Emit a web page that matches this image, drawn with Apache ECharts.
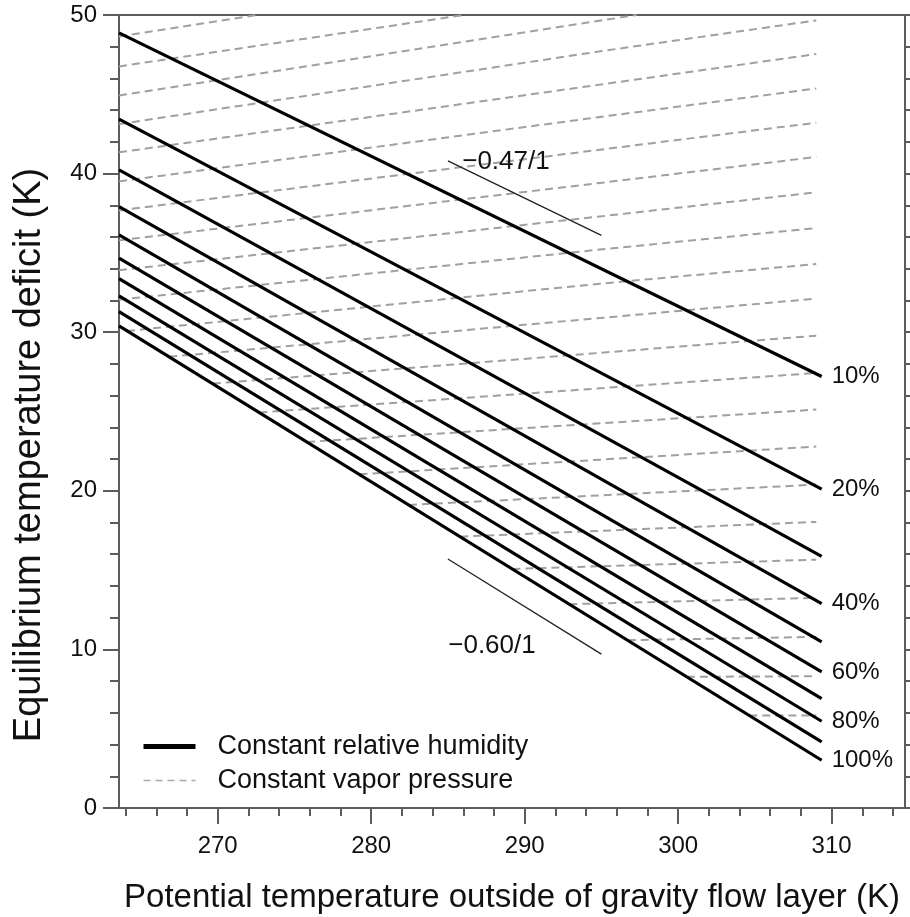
<!DOCTYPE html>
<html>
<head>
<meta charset="utf-8">
<script src="https://cdn.jsdelivr.net/npm/echarts@6/dist/echarts.min.js"></script>
<style>
html,body{margin:0;padding:0;background:#fff;}
#chart{width:910px;height:917px;}
</style>
</head>
<body>
<div id="chart"></div>
<script>
// ---------- data ----------
// x-axis range (potential temperature, K)
const xMin = 263.57;
const xMax = 314.78;
const xMajorTicks = [270, 280, 290, 300, 310];
const xMinorTicks = [264, 266, 268, 270, 272, 274, 276, 278, 280, 282, 284, 286, 288, 290, 292, 294, 296, 298, 300, 302, 304, 306, 308, 310, 312, 314];

// constant relative humidity lines (10% .. 100%)
const rhLabels = ['10%', '20%', '', '40%', '', '60%', '', '80%', '', '100%'];
const rhStartT = 263.57;
const rhEndT = 309.35;
const rhStartDeficit = [48.87, 43.43, 40.23, 37.92, 36.14, 34.67, 33.38, 32.29, 31.30, 30.40];
const rhEndDeficit = [27.21, 20.11, 15.87, 12.89, 10.47, 8.58, 6.90, 5.47, 4.17, 3.01];

// constant vapor pressure lines (start, optional middle, end)
const vpStartT = [263.57, 263.57, 263.57, 263.57, 263.57, 263.57, 263.57, 263.57, 263.57, 263.57,
                  264.10, 266.84, 269.68, 272.72, 275.82, 279.24, 282.46, 285.80, 289.20, 292.91, 296.72, 300.57, 304.64];
const vpStartDeficit = [48.65, 46.76, 44.93, 43.12, 41.34, 39.51, 37.68, 35.79, 33.91, 32.05,
                        30.08, 28.45, 26.76, 24.94, 23.08, 21.04, 19.11, 17.11, 15.07, 12.85, 10.58, 8.27, 5.83];
const vpMidT = 294.91;
const vpMidDeficit = [null, null, null, 47.71, 45.61, 43.57, 41.51, 39.41, 37.30, 35.21,
                      33.06, null, null, null, null, null, null, null, null, null, null, null, null];
const vpEndT = [272.56, 286.04, 297.30, 309.0, 309.0, 309.0, 309.0, 309.0, 309.0, 309.0,
                309.0, 309.0, 309.0, 309.0, 309.0, 309.0, 309.0, 309.0, 309.0, 309.0, 309.0, 309.0, 309.0];
const vpEndDeficit = [50.0, 50.0, 50.0, 49.66, 47.54, 45.37, 43.21, 41.05, 38.82, 36.57,
                      34.30, 32.12, 29.78, 27.43, 25.12, 22.79, 20.39, 18.04, 15.66, 13.25, 10.79, 8.31, 5.83];

// slope reference segments and their labels
const slopeSegT = [285, 295];
const slopeUpperDeficit = [40.8, 36.1];
const slopeLowerDeficit = [15.7, 9.7];
const slopeUpperText = '\u22120.47/1';
const slopeLowerText = '\u22120.60/1';
const slopeUpperLabelAt = [288.78, 40.75];
const slopeLowerLabelAt = [287.87, 10.22];

// ---------- chart ----------
const FONT = "'Liberation Sans', Arial, Helvetica, sans-serif";
const AXIS_COLOR = '#5c5c5c';
const TEXT_COLOR = '#111';
const RH_NAME = 'Constant relative humidity';
const VP_NAME = 'Constant vapor pressure';

const series = [];

vpStartT.forEach((t0, i) => {
  const pts = [[t0, vpStartDeficit[i]]];
  if (vpMidDeficit[i] !== null) pts.push([vpMidT, vpMidDeficit[i]]);
  pts.push([vpEndT[i], vpEndDeficit[i]]);
  series.push({
    type: 'line', name: VP_NAME, data: pts, symbol: 'none', silent: true, z: 2,
    itemStyle: { color: '#a0a0a0' },
    lineStyle: { color: '#a0a0a0', width: 2, type: [8, 5] }
  });
});

rhStartDeficit.forEach((d0, i) => {
  series.push({
    type: 'line', name: RH_NAME, symbol: 'none', silent: true, z: 3,
    data: [[rhStartT, d0], [rhEndT, rhEndDeficit[i]]],
    itemStyle: { color: '#000' },
    lineStyle: { color: '#000', width: 3.2 },
    endLabel: {
      show: rhLabels[i] !== '', formatter: rhLabels[i], distance: 10,
      fontSize: 24, color: TEXT_COLOR, fontFamily: FONT
    }
  });
});

series.push({
  type: 'line', name: 'slope1', symbol: 'none', silent: true, z: 3,
  data: slopeSegT.map((t, k) => [t, slopeUpperDeficit[k]]),
  lineStyle: { color: '#222', width: 1.3 }
});
series.push({
  type: 'line', name: 'slope2', symbol: 'none', silent: true, z: 3,
  data: slopeSegT.map((t, k) => [t, slopeLowerDeficit[k]]),
  lineStyle: { color: '#222', width: 1.3 }
});
series.push({
  type: 'scatter', name: 'slopeText', symbolSize: 0, silent: true, z: 4,
  itemStyle: { opacity: 1 },
  data: [
    { value: slopeUpperLabelAt, label: { formatter: slopeUpperText } },
    { value: slopeLowerLabelAt, label: { formatter: slopeLowerText } }
  ],
  label: { show: true, position: 'inside', fontSize: 26, color: TEXT_COLOR, fontFamily: FONT }
});

const chart = echarts.init(document.getElementById('chart'), null, { renderer: 'canvas' });
chart.setOption({
  animation: false,
  backgroundColor: '#fff',
  textStyle: { fontFamily: FONT },
  grid: {
    left: 119, right: 5, top: 15, bottom: 109,
    outerBoundsMode: 'none', containLabel: false,
    show: true, borderColor: AXIS_COLOR, borderWidth: 2, backgroundColor: 'transparent'
  },
  legend: {
    orient: 'vertical', left: 136, top: 728,
    itemWidth: 52, itemHeight: 20, itemGap: 7,
    itemStyle: { opacity: 0 },
    data: [
      { name: RH_NAME, lineStyle: { width: 5, color: '#000' } },
      { name: VP_NAME, lineStyle: { width: 1.5, color: '#a8a8a8', type: [7, 5] } }
    ],
    textStyle: { fontSize: 27, color: TEXT_COLOR, fontFamily: FONT, padding: [0, 0, 0, 17] },
    selectedMode: false
  },
  graphic: [
    {
      type: 'text', x: 30, y: 455, rotation: Math.PI / 2,
      style: {
        text: 'Equilibrium temperature deficit (K)', fontSize: 38, fontFamily: FONT,
        fill: TEXT_COLOR, align: 'center', verticalAlign: 'middle'
      }
    }
  ],
  xAxis: [
    {
      type: 'value', min: xMin, max: xMax, position: 'bottom',
      axisLine: { show: true, lineStyle: { color: AXIS_COLOR, width: 2 } },
      axisTick: { show: true, customValues: xMajorTicks, length: 16, lineStyle: { color: AXIS_COLOR, width: 2 } },
      axisLabel: { customValues: xMajorTicks, fontSize: 24, color: TEXT_COLOR, margin: 26, fontFamily: FONT },
      splitLine: { show: false },
      name: 'Potential temperature outside of gravity flow layer (K)',
      nameLocation: 'middle', nameGap: 73,
      nameTextStyle: { fontSize: 33, color: TEXT_COLOR, fontFamily: FONT }
    },
    {
      type: 'value', min: xMin, max: xMax, position: 'bottom',
      axisLine: { show: false },
      axisTick: { show: true, customValues: xMinorTicks, length: 8, lineStyle: { color: AXIS_COLOR, width: 2 } },
      axisLabel: { show: false },
      splitLine: { show: false }
    }
  ],
  yAxis: [
    {
      type: 'value', min: 0, max: 50, interval: 10, position: 'left',
      axisLine: { show: true, lineStyle: { color: AXIS_COLOR, width: 2 } },
      axisTick: { show: true, length: 16, lineStyle: { color: AXIS_COLOR, width: 2 } },
      minorTick: { show: true, splitNumber: 5, length: 9, lineStyle: { color: AXIS_COLOR, width: 2 } },
      axisLabel: { fontSize: 24, color: TEXT_COLOR, margin: 22, fontFamily: FONT },
      splitLine: { show: false }, minorSplitLine: { show: false }
    },
    {
      type: 'value', min: 0, max: 50, interval: 2, position: 'right',
      axisLine: { show: true, lineStyle: { color: AXIS_COLOR, width: 2 } },
      axisTick: { show: true, length: 6, lineStyle: { color: AXIS_COLOR, width: 2 } },
      axisLabel: { show: false },
      splitLine: { show: false }
    }
  ],
  series: series
});
</script>
</body>
</html>
